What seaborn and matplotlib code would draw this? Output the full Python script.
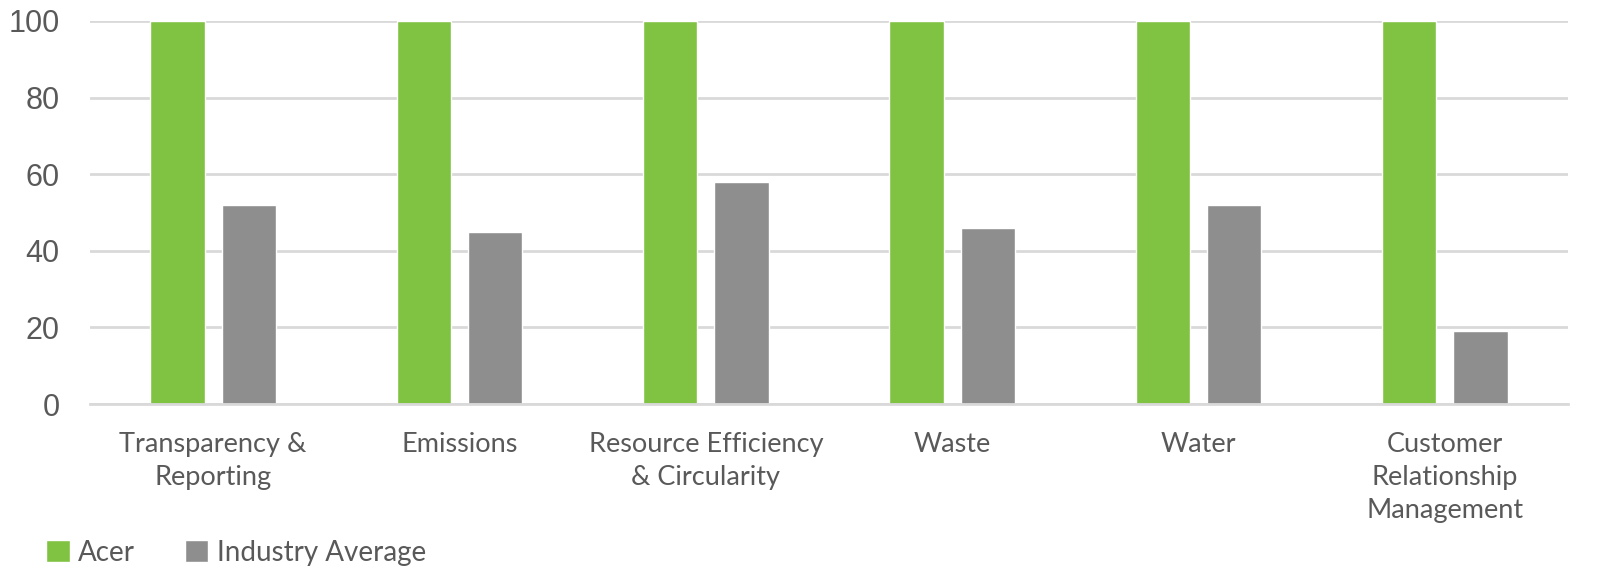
"""
Acer vs industry average scores by ESG topic
"""

import matplotlib
matplotlib.use("Agg")
import matplotlib.pyplot as plt
import seaborn as sns
import pandas as pd

# Data
categories = [
    "Transparency &\nReporting",
    "Emissions",
    "Resource Efficiency\n& Circularity",
    "Waste",
    "Water",
    "Customer\nRelationship\nManagement",
]
acer_scores = [100, 100, 100, 100, 100, 100]
industry_avg = [52, 45, 58, 46, 52, 19]
series_names = ["Acer", "Industry Average"]
y_ticks = [0, 20, 40, 60, 80, 100]

GREEN = "#80C242"
GREY = "#8E8E8E"
TEXT = "#595959"
GRID = "#D9D9D9"

sns.set_style("white")
plt.rcParams['font.family'] = ['Lato', 'DejaVu Sans']

df = pd.DataFrame({
    "category": categories * 2,
    "score": acer_scores + industry_avg,
    "series": [series_names[0]] * len(categories) + [series_names[1]] * len(categories),
})

fig = plt.figure(figsize=(16.08, 5.79), dpi=100)
ax = fig.add_axes([90 / 1608, 1 - 404 / 579, 1478 / 1608, 383 / 579])

sns.barplot(data=df, x="category", y="score", hue="series",
            palette=[GREEN, GREY], width=0.58, gap=0.24,
            saturation=1, ax=ax, legend=True)

ax.set_ylim(0, 100)
ax.set_xlim(-0.5, len(categories) - 0.5)
ax.set_yticks(y_ticks)
ax.set_yticklabels([str(t) for t in y_ticks], fontsize=22, color=TEXT,
                   family=['Liberation Sans', 'DejaVu Sans'])
ax.tick_params(axis='x', labelsize=19.5, colors=TEXT, length=0, pad=20)
ax.tick_params(axis='y', length=0, pad=22)
for lab in ax.get_xticklabels():
    lab.set_linespacing(1.4)
ax.set_xlabel("")
ax.set_ylabel("")

ax.grid(axis='y', color=GRID, linewidth=2)
ax.set_axisbelow(True)
for side in ["top", "right", "left"]:
    ax.spines[side].set_visible(False)
ax.spines["bottom"].set_color(GRID)
ax.spines["bottom"].set_linewidth(2)

handles, labels = ax.get_legend_handles_labels()
ax.get_legend().remove()
fig.legend(handles, labels, loc="lower left", bbox_to_anchor=(0.013, -0.02),
           ncol=2, frameon=False, fontsize=20, labelcolor=TEXT,
           handlelength=0.85, handleheight=0.85, handletextpad=0.3,
           columnspacing=1.8)

fig.savefig("out.png", dpi=100)
